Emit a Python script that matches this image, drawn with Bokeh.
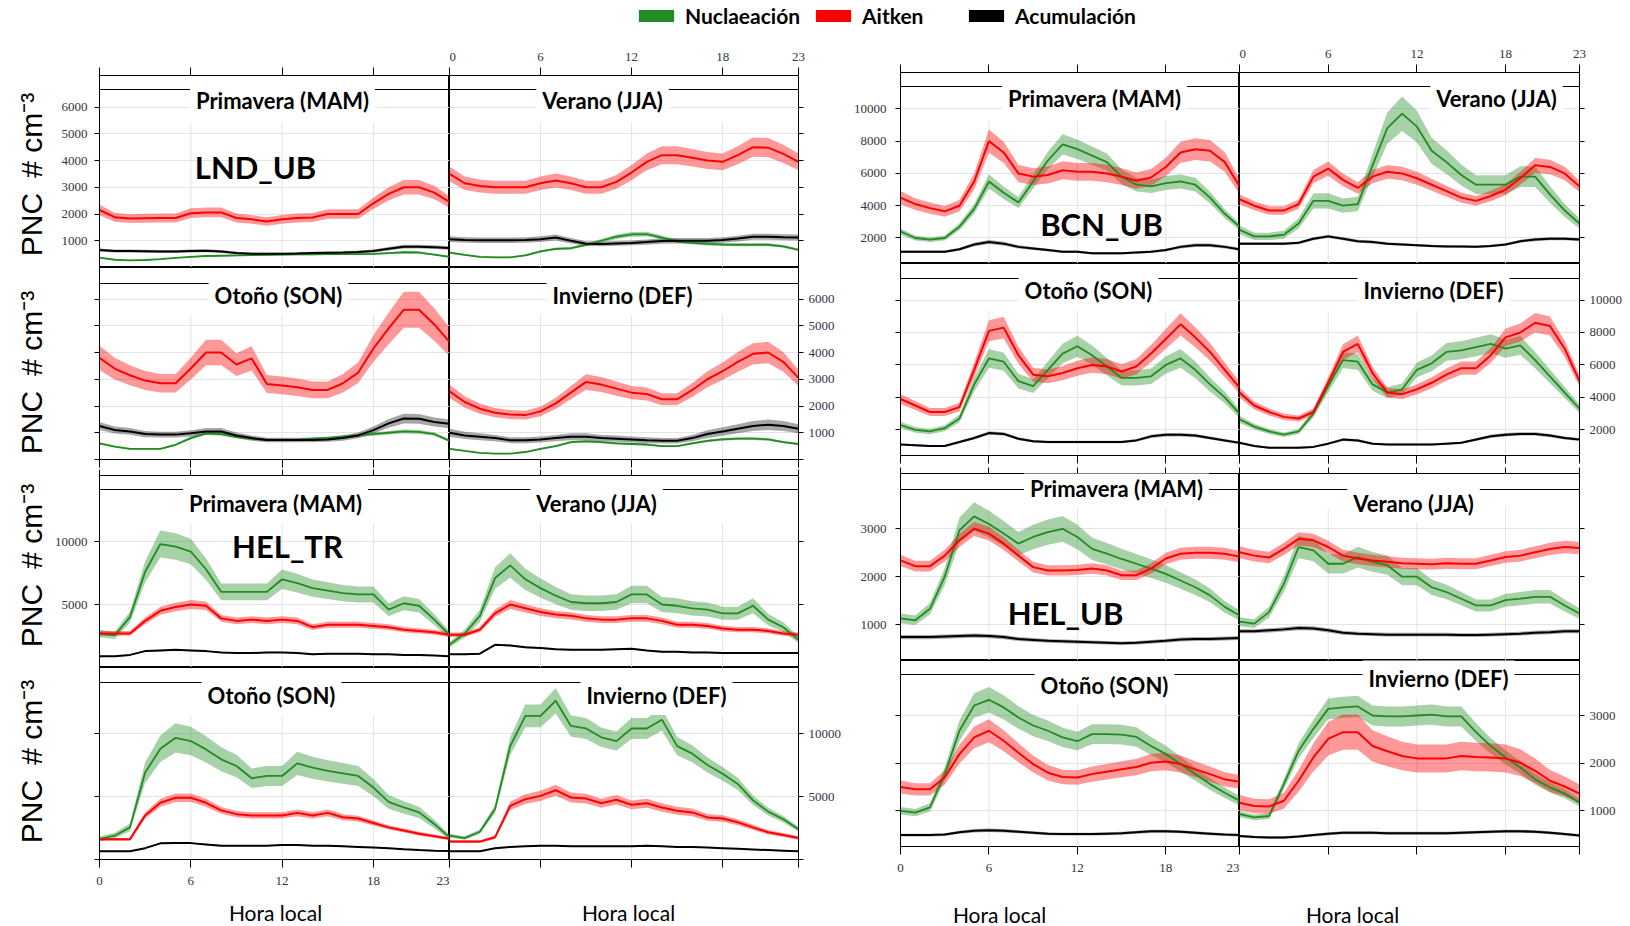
import math
from bokeh.plotting import figure
from bokeh.layouts import row, column
from bokeh.models import (Range1d, LinearAxis, FixedTicker, Grid, Span, Label,
                          Legend, LegendItem)
from bokeh.embed import file_html
from bokeh.resources import INLINE

# ---------------------------------------------------------------- data
HOURS = list(range(24))
HOUR_TICKS = [0, 6, 12, 18, 23]
HOUR_GRID = [6, 12, 18]

MODE_NAMES = ["Nuclaeación", "Aitken", "Acumulación"]
MODE_COLORS = ["#228b22", "#ff0000", "#000000"]
MODE_BAND_ALPHA = [0.40, 0.40, 0.35]
MODE_LINE_WIDTH = [1.8, 2.0, 2.0]

SEASON_ORDER = ["MAM", "JJA", "SON", "DEF"]
SEASON_TITLES = ["Primavera (MAM)", "Verano (JJA)", "Otoño (SON)", "Invierno (DEF)"]

# London urban background
LND_MAM_NUC = [370, 290, 270, 280, 310, 360, 400, 430, 440, 450, 460, 470, 480, 490, 490, 500, 500, 500, 510, 540, 570, 560, 480, 400]
LND_MAM_AIT = [2150, 1880, 1830, 1840, 1850, 1850, 2030, 2060, 2060, 1850, 1800, 1720, 1800, 1850, 1870, 2000, 2000, 2000, 2400, 2750, 3000, 3000, 2800, 2450]
LND_MAM_ACU = [650, 620, 620, 610, 600, 600, 620, 630, 600, 540, 510, 510, 510, 520, 540, 550, 560, 580, 620, 700, 780, 780, 760, 730]
LND_JJA_NUC = [560, 470, 400, 380, 380, 450, 600, 700, 720, 850, 1000, 1150, 1240, 1250, 1120, 980, 920, 880, 860, 850, 850, 850, 790, 660]
LND_JJA_AIT = [3500, 3150, 3050, 3000, 3000, 3000, 3150, 3250, 3150, 3000, 3000, 3200, 3550, 3950, 4200, 4200, 4100, 4000, 3950, 4200, 4500, 4480, 4250, 3950]
LND_JJA_ACU = [1060, 1030, 1020, 1020, 1020, 1030, 1060, 1120, 1000, 890, 880, 900, 920, 950, 990, 1000, 1000, 1000, 1030, 1080, 1150, 1150, 1130, 1120]
LND_SON_NUC = [600, 480, 400, 400, 400, 550, 800, 980, 950, 850, 780, 730, 730, 730, 780, 800, 850, 900, 950, 1000, 1050, 1030, 950, 700]
LND_SON_AIT = [3800, 3400, 3150, 2950, 2850, 2850, 3400, 4000, 4000, 3550, 3780, 2820, 2770, 2700, 2600, 2600, 2850, 3250, 4150, 4900, 5600, 5600, 5050, 4400]
LND_SON_ACU = [1250, 1100, 1050, 950, 930, 930, 980, 1050, 1050, 900, 800, 730, 730, 730, 730, 750, 800, 900, 1100, 1350, 1530, 1520, 1400, 1330]
LND_DEF_NUC = [400, 320, 250, 220, 220, 280, 400, 500, 650, 680, 650, 600, 580, 560, 500, 500, 600, 700, 750, 780, 780, 750, 650, 580]
LND_DEF_AIT = [2550, 2150, 1900, 1750, 1680, 1660, 1800, 2100, 2500, 2900, 2800, 2650, 2500, 2450, 2250, 2250, 2600, 3000, 3300, 3650, 3950, 4000, 3650, 3050]
LND_DEF_ACU = [1000, 900, 850, 800, 720, 720, 750, 800, 850, 850, 800, 780, 750, 720, 700, 700, 800, 950, 1050, 1150, 1250, 1300, 1250, 1150]

# Barcelona urban background
BCN_MAM_NUC = [2400, 2000, 1900, 2000, 2700, 3800, 5500, 4800, 4200, 5500, 6800, 7800, 7500, 7100, 6700, 5800, 5300, 5200, 5400, 5500, 5300, 4500, 3500, 2700]
BCN_MAM_AIT = [4500, 4100, 3850, 3650, 4000, 5500, 8000, 7300, 6000, 5800, 5900, 6200, 6100, 6100, 6000, 5800, 5550, 5750, 6400, 7300, 7500, 7400, 6700, 5200]
BCN_MAM_ACU = [1150, 1150, 1150, 1150, 1300, 1600, 1750, 1650, 1450, 1350, 1250, 1150, 1150, 1050, 1050, 1050, 1100, 1150, 1250, 1450, 1550, 1550, 1450, 1300]
BCN_JJA_NUC = [2500, 2100, 2100, 2200, 2900, 4300, 4300, 4000, 4100, 6500, 8800, 9700, 8900, 7400, 6700, 5900, 5300, 5300, 5300, 5800, 5800, 4700, 3700, 2900]
BCN_JJA_AIT = [4400, 4000, 3700, 3700, 4100, 5800, 6300, 5600, 5100, 5800, 6100, 6000, 5700, 5300, 4900, 4500, 4300, 4600, 5000, 5700, 6500, 6400, 6000, 5200]
BCN_JJA_ACU = [1650, 1650, 1650, 1650, 1700, 1950, 2100, 1950, 1800, 1750, 1650, 1600, 1550, 1500, 1480, 1470, 1450, 1500, 1600, 1800, 1900, 1950, 1950, 1900]
BCN_SON_NUC = [2300, 2000, 1900, 2100, 2700, 4800, 6400, 6200, 5000, 4700, 5700, 6700, 7150, 6600, 5900, 5200, 5200, 5300, 6000, 6400, 5700, 4800, 4000, 3000]
BCN_SON_AIT = [3900, 3500, 3100, 3100, 3400, 5700, 8100, 8300, 6600, 5400, 5300, 5500, 5800, 6000, 5900, 5600, 5900, 6700, 7600, 8500, 7700, 6800, 5700, 4600]
BCN_SON_ACU = [1100, 1050, 1000, 1000, 1250, 1500, 1800, 1750, 1450, 1300, 1250, 1250, 1250, 1250, 1250, 1250, 1350, 1600, 1700, 1700, 1650, 1500, 1350, 1200]
BCN_DEF_NUC = [2650, 2200, 1900, 1700, 1900, 3000, 4700, 6300, 6200, 4800, 4300, 4500, 5700, 6100, 6800, 6900, 7100, 7300, 7000, 7200, 6300, 5300, 4300, 3300]
BCN_DEF_AIT = [4300, 3500, 3100, 2800, 2700, 3100, 4900, 6800, 7300, 5500, 4300, 4200, 4500, 4900, 5400, 5800, 5800, 6600, 7700, 8000, 8600, 8400, 7000, 5000]
BCN_DEF_ACU = [1200, 1000, 900, 900, 900, 950, 1150, 1400, 1350, 1150, 1100, 1100, 1100, 1100, 1150, 1200, 1400, 1600, 1700, 1750, 1750, 1650, 1500, 1400]

# Helsinki traffic
HTR_MAM_NUC = [2700, 2550, 4000, 7600, 9800, 9600, 9200, 7800, 6000, 6000, 6000, 6000, 7000, 6700, 6300, 6100, 5900, 5800, 5800, 4600, 5100, 4900, 3800, 2600]
HTR_MAM_AIT = [2700, 2700, 2700, 3700, 4500, 4800, 5000, 4900, 3900, 3700, 3800, 3700, 3800, 3700, 3200, 3400, 3400, 3400, 3300, 3200, 3000, 2900, 2800, 2600]
HTR_MAM_ACU = [900, 900, 1000, 1300, 1350, 1400, 1350, 1300, 1200, 1150, 1150, 1200, 1200, 1150, 1050, 1100, 1100, 1100, 1050, 1050, 1000, 1000, 950, 900]
HTR_JJA_NUC = [1800, 2700, 4100, 7100, 8100, 7000, 6300, 5700, 5200, 5100, 5100, 5200, 5800, 5800, 5000, 4900, 4700, 4600, 4300, 4300, 4900, 3800, 3200, 2200]
HTR_JJA_AIT = [2600, 2600, 3000, 4300, 5000, 4700, 4400, 4200, 4100, 3900, 3800, 3800, 3900, 3900, 3700, 3400, 3400, 3300, 3100, 3000, 3000, 2900, 2700, 2600]
HTR_JJA_ACU = [1050, 1050, 1100, 1800, 1750, 1600, 1550, 1450, 1400, 1400, 1400, 1450, 1480, 1350, 1250, 1250, 1200, 1200, 1150, 1150, 1150, 1150, 1150, 1150]
HTR_SON_NUC = [1630, 1890, 2550, 6900, 8790, 9660, 9400, 8740, 7950, 7420, 6450, 6630, 6630, 7630, 7290, 7030, 6840, 6630, 5710, 4580, 4130, 3740, 2820, 1760]
HTR_SON_AIT = [1600, 1600, 1600, 3500, 4500, 4900, 4900, 4500, 3900, 3600, 3500, 3500, 3500, 3700, 3500, 3700, 3350, 3250, 2900, 2550, 2300, 2050, 1850, 1650]
HTR_SON_ACU = [660, 650, 660, 900, 1280, 1300, 1300, 1200, 1100, 1100, 1100, 1100, 1150, 1150, 1100, 1100, 1050, 1000, 950, 900, 820, 750, 700, 680]
HTR_DEF_NUC = [1900, 1700, 2200, 4000, 9000, 11400, 11400, 12600, 10600, 10400, 9700, 9400, 10400, 10400, 11100, 9000, 8400, 7500, 6800, 6000, 4700, 3800, 3200, 2400]
HTR_DEF_AIT = [1420, 1420, 1420, 1760, 4260, 4790, 5050, 5500, 4920, 4840, 4470, 4740, 4340, 4470, 4130, 3870, 3740, 3340, 3260, 2950, 2550, 2160, 1950, 1710]
HTR_DEF_ACU = [660, 660, 660, 900, 1000, 1050, 1100, 1100, 1050, 1050, 1050, 1050, 1050, 1100, 1050, 1000, 1000, 950, 900, 850, 800, 750, 700, 650]

# Helsinki urban background
HUB_MAM_NUC = [1130, 1090, 1330, 2000, 2970, 3260, 3100, 2900, 2690, 2830, 2930, 3000, 2830, 2580, 2480, 2370, 2270, 2170, 2060, 1920, 1780, 1610, 1370, 1190]
HUB_MAM_AIT = [2340, 2220, 2220, 2440, 2760, 3000, 2900, 2690, 2440, 2200, 2130, 2130, 2140, 2170, 2130, 2030, 2030, 2170, 2380, 2480, 2500, 2500, 2480, 2420]
HUB_MAM_ACU = [740, 740, 740, 750, 760, 770, 760, 740, 700, 680, 660, 650, 640, 630, 620, 610, 620, 640, 660, 690, 700, 700, 710, 720]
HUB_JJA_NUC = [1060, 1020, 1260, 1850, 2620, 2550, 2270, 2270, 2410, 2310, 2240, 2000, 2000, 1780, 1680, 1540, 1400, 1400, 1510, 1540, 1580, 1580, 1400, 1230]
HUB_JJA_AIT = [2510, 2440, 2400, 2580, 2790, 2760, 2620, 2440, 2380, 2340, 2310, 2280, 2270, 2260, 2280, 2270, 2270, 2340, 2410, 2440, 2510, 2580, 2620, 2600]
HUB_JJA_ACU = [860, 860, 880, 900, 930, 920, 880, 830, 810, 800, 790, 790, 790, 790, 790, 780, 780, 790, 800, 810, 830, 840, 860, 860]
HUB_SON_NUC = [1000, 960, 1070, 1770, 2680, 3210, 3330, 3170, 2960, 2790, 2680, 2540, 2460, 2610, 2610, 2600, 2550, 2360, 2190, 1980, 1770, 1560, 1380, 1210]
HUB_SON_AIT = [1500, 1450, 1450, 1700, 2190, 2540, 2680, 2470, 2220, 1980, 1800, 1710, 1700, 1770, 1820, 1870, 1920, 2010, 2035, 1980, 1870, 1770, 1660, 1610]
HUB_SON_ACU = [490, 490, 490, 500, 550, 580, 590, 580, 560, 540, 520, 510, 510, 510, 520, 530, 550, 570, 570, 560, 540, 520, 500, 490]
HUB_DEF_NUC = [930, 860, 890, 1560, 2260, 2720, 3140, 3170, 3190, 3000, 2980, 2980, 3000, 3020, 2980, 2980, 2650, 2360, 2120, 1910, 1660, 1490, 1360, 1170]
HUB_DEF_AIT = [1170, 1100, 1090, 1210, 1630, 2120, 2510, 2650, 2650, 2360, 2250, 2150, 2100, 2100, 2100, 2150, 2130, 2120, 2100, 2010, 1840, 1630, 1510, 1360]
HUB_DEF_ACU = [470, 450, 440, 440, 460, 490, 520, 540, 540, 540, 530, 530, 530, 530, 530, 540, 550, 560, 570, 570, 560, 540, 510, 480]

# relative half-width of the confidence band (nucleation, Aitken, accumulation)
LND_BAND = {"MAM": (0.06, 0.09, 0.09), "JJA": (0.07, 0.08, 0.10), "SON": (0.07, 0.12, 0.12), "DEF": (0.07, 0.10, 0.15)}
BCN_BAND = {"MAM": (0.08, 0.09, 0.07), "JJA": (0.11, 0.07, 0.05), "SON": (0.09, 0.08, 0.06), "DEF": (0.08, 0.07, 0.06)}
HTR_BAND = {"MAM": (0.11, 0.07, 0.04), "JJA": (0.12, 0.07, 0.04), "SON": (0.12, 0.07, 0.04), "DEF": (0.08, 0.08, 0.04)}
HUB_BAND = {"MAM": (0.09, 0.05, 0.06), "JJA": (0.09, 0.05, 0.05), "SON": (0.08, 0.09, 0.06), "DEF": (0.07, 0.14, 0.06)}

SERIES = {
    "LND_UB": {"MAM": (LND_MAM_NUC, LND_MAM_AIT, LND_MAM_ACU), "JJA": (LND_JJA_NUC, LND_JJA_AIT, LND_JJA_ACU),
               "SON": (LND_SON_NUC, LND_SON_AIT, LND_SON_ACU), "DEF": (LND_DEF_NUC, LND_DEF_AIT, LND_DEF_ACU)},
    "BCN_UB": {"MAM": (BCN_MAM_NUC, BCN_MAM_AIT, BCN_MAM_ACU), "JJA": (BCN_JJA_NUC, BCN_JJA_AIT, BCN_JJA_ACU),
               "SON": (BCN_SON_NUC, BCN_SON_AIT, BCN_SON_ACU), "DEF": (BCN_DEF_NUC, BCN_DEF_AIT, BCN_DEF_ACU)},
    "HEL_TR": {"MAM": (HTR_MAM_NUC, HTR_MAM_AIT, HTR_MAM_ACU), "JJA": (HTR_JJA_NUC, HTR_JJA_AIT, HTR_JJA_ACU),
               "SON": (HTR_SON_NUC, HTR_SON_AIT, HTR_SON_ACU), "DEF": (HTR_DEF_NUC, HTR_DEF_AIT, HTR_DEF_ACU)},
    "HEL_UB": {"MAM": (HUB_MAM_NUC, HUB_MAM_AIT, HUB_MAM_ACU), "JJA": (HUB_JJA_NUC, HUB_JJA_AIT, HUB_JJA_ACU),
               "SON": (HUB_SON_NUC, HUB_SON_AIT, HUB_SON_ACU), "DEF": (HUB_DEF_NUC, HUB_DEF_AIT, HUB_DEF_ACU)},
}
BANDS = {"LND_UB": LND_BAND, "BCN_UB": BCN_BAND, "HEL_TR": HTR_BAND, "HEL_UB": HUB_BAND}

Y_TICKS = {
    "LND_UB": [0, 1000, 2000, 3000, 4000, 5000, 6000],
    "BCN_UB": [2000, 4000, 6000, 8000, 10000],
    "HEL_TR": [0, 5000, 10000],
    "HEL_UB": [1000, 2000, 3000],
}
Y_LIMITS = {"LND_UB": (0, 7178), "BCN_UB": (420, 12250), "HEL_TR": (0, 15240), "HEL_UB": (250, 4155)}

# ---------------------------------------------------------------- styling / geometry
FONT_TICK = "Liberation Sans Narrow"
FONT_TEXT = "Lato"
TICK_COLOR = "#333340"
GRID_COLOR = "#e4e4e4"
YLABEL = "PNC\u2002# cm\u207b\u00b3"
XLABEL = "Hora local"

LEFT_COLS = [(49, 350, 0), (0, 349, 50)]      # (border left, frame width, border right)
RIGHT_COLS = [(52, 339, 0), (0, 340, 51)]

BLOCKS = {
    "LND_UB": dict(upper=True, cols=LEFT_COLS,
                   rows=[(35, 192, 0, 14), (0, 192, 10, 16)],   # (border top, frame h, border bottom, strip)
                   titles=[(183, 25), (153, 25), (179, 28), (173, 28)],
                   site=(156, 91), gridcut=47),
    "BCN_UB": dict(upper=True, cols=RIGHT_COLS,
                   rows=[(32, 191, 0, 14), (0, 192, 9, 15)],
                   titles=[(194, 26), (257, 26), (188, 27), (194, 27)],
                   site=(201, 151), gridcut=47),
    "HEL_TR": dict(upper=False, cols=LEFT_COLS,
                   rows=[(6, 192, 0, 14), (0, 192, 36, 15)],
                   titles=[(176, 28), (147, 28), (172, 28), (207, 28)],
                   site=(188, 70), gridcut=48),
    "HEL_UB": dict(upper=False, cols=RIGHT_COLS,
                   rows=[(9, 187, 0, 16), (0, 186, 36, 14)],
                   titles=[(216, 15), (174, 30), (204, 25), (199, 18)],
                   site=(165, 139), gridcut=35),
}

# side strips holding the shared axis titles: (width, height, [(x, y), ...]) in strip pixels
YLAB_STRIP = (50, 886, [(31, 752), (31, 554), (31, 361), (31, 165)])
XLAB_STRIP_LEFT = (798, 31, [(225, 14), (578, 14)])
XLAB_STRIP_RIGHT = (782, 44, [(151, 12), (504, 12)])


def make_axis(ticks, show, tick_out, standoff, hide_zero=False):
    ax = LinearAxis(ticker=FixedTicker(ticks=ticks))
    ax.major_tick_in = 0
    ax.major_tick_out = tick_out
    ax.major_tick_line_color = "black"
    ax.axis_line_color = "black"
    ax.minor_tick_line_color = None
    if show:
        ax.major_label_text_font = FONT_TICK
        ax.major_label_text_font_size = "13px"
        ax.major_label_text_color = TICK_COLOR
        ax.major_label_standoff = standoff
        if hide_zero:
            ax.major_label_overrides = {0: ""}
    else:
        ax.major_label_text_font_size = "0px"
        ax.major_label_text_color = None
        ax.major_label_text_alpha = 0
        ax.major_label_standoff = 0
    return ax


def make_panel(site, r, c):
    blk = BLOCKS[site]
    bl, fw, br = blk["cols"][c]
    bt, fh, bb, strip_px = blk["rows"][r]
    lo, top = Y_LIMITS[site]
    yticks = Y_TICKS[site]
    idx = 2 * r + c
    season = SEASON_ORDER[idx]
    per_px = (top - lo) / fh

    p = figure(width=bl + fw + br, height=bt + fh + bb,
               x_range=Range1d(0, 23), y_range=Range1d(lo, top),
               x_axis_type=None, y_axis_type=None, title=None,
               toolbar_location=None, output_backend="svg",
               min_border_left=bl, min_border_right=br,
               min_border_top=bt, min_border_bottom=bb)
    p.outline_line_color = "black"
    p.outline_line_width = 1
    p.background_fill_color = "white"
    p.border_fill_color = "white"

    # grid
    p.add_layout(Grid(dimension=1, ticker=FixedTicker(ticks=yticks),
                      grid_line_color=GRID_COLOR, grid_line_width=1))
    ycut = top - blk["gridcut"] * per_px
    p.segment(x0=HOUR_GRID, y0=[lo] * len(HOUR_GRID), x1=HOUR_GRID, y1=[ycut] * len(HOUR_GRID),
              line_color=GRID_COLOR, line_width=1)

    # mean diurnal cycles with confidence bands
    vals3 = SERIES[site][season]
    rel3 = BANDS[site][season]
    for vals, rel, col, alpha in zip(vals3, rel3, MODE_COLORS, MODE_BAND_ALPHA):
        p.varea(x=HOURS, y1=[v * (1 - rel) for v in vals], y2=[v * (1 + rel) for v in vals],
                fill_color=col, fill_alpha=alpha)
    for vals, col, lw in zip(vals3, MODE_COLORS, MODE_LINE_WIDTH):
        p.line(HOURS, vals, line_color=col, line_width=lw)

    # strip line and season title
    p.add_layout(Span(location=top - strip_px * per_px, dimension="width",
                      line_color="black", line_width=1))
    dx, dy = blk["titles"][idx]
    p.add_layout(Label(x=dx * 23 / fw, y=top - dy * per_px, text=SEASON_TITLES[idx],
                       text_align="center", text_baseline="middle",
                       text_font=FONT_TEXT, text_font_style="bold", text_font_size="22px",
                       text_color="black", background_fill_color="white", padding=6))
    if idx == 0:
        sx, sy = blk["site"]
        p.add_layout(Label(x=sx * 23 / fw, y=top - sy * per_px, text=site,
                           text_align="center", text_baseline="middle",
                           text_font=FONT_TEXT, text_font_style="bold", text_font_size="31px",
                           text_color="black"))

    upper = blk["upper"]
    hide_zero = 0 in yticks
    # x axes
    if r == 0:
        p.add_layout(make_axis(HOUR_TICKS, upper and c == 1, 8 if upper else 6, 7), "above")
    else:
        p.add_layout(make_axis(HOUR_TICKS, (not upper) and c == 0, 8, 9), "below")
    # y axes
    if c == 0:
        p.add_layout(make_axis(yticks, r == 0, 5, 9 if bl > 50 else 7, hide_zero), "left")
    else:
        p.add_layout(make_axis(yticks, r == 1, 5, 5, hide_zero), "right")
    return p


def make_block(site):
    return column(row(make_panel(site, 0, 0), make_panel(site, 0, 1)),
                  row(make_panel(site, 1, 0), make_panel(site, 1, 1)))


def text_strip(spec, text, font, size, angle=0.0):
    w, h, spots = spec
    s = figure(width=w, height=h, x_range=Range1d(0, w), y_range=Range1d(0, h),
               x_axis_type=None, y_axis_type=None, title=None, toolbar_location=None,
               output_backend="svg", min_border=0)
    s.outline_line_color = None
    for x, y in spots:
        s.add_layout(Label(x=x, y=y, text=text, angle=angle, text_align="center",
                           text_baseline="middle", text_font=font, text_font_size=size,
                           text_color="black"))
    return s


# ---------------------------------------------------------------- legend strip
LEGEND_X = [634, 811, 964]
lg = figure(width=1630, height=40, x_range=Range1d(0, 1), y_range=Range1d(0, 1),
            x_axis_type=None, y_axis_type=None, title=None, toolbar_location=None,
            output_backend="svg", min_border=0)
lg.outline_line_color = None
for name, color, lx in zip(MODE_NAMES, MODE_COLORS, LEGEND_X):
    # swatch glyph kept outside the visible range; only its legend entry is seen
    rend = lg.quad(left=[-3], right=[-2], top=[-2], bottom=[-3], fill_color=color, line_color=None)
    lg.add_layout(Legend(items=[LegendItem(label=name, renderers=[rend])], location=(lx, 12),
                         orientation="horizontal", glyph_width=44, glyph_height=15,
                         label_standoff=7, label_height=22, padding=0, margin=0, spacing=0,
                         border_line_color=None, background_fill_alpha=0,
                         label_text_font=FONT_TEXT, label_text_font_style="bold",
                         label_text_font_size="21px", label_text_color="black"))

ylab = text_strip(YLAB_STRIP, YLABEL, "Liberation Sans", "30px", angle=math.pi / 2)
left_panels = column(make_block("LND_UB"), make_block("HEL_TR"),
                     text_strip(XLAB_STRIP_LEFT, XLABEL, FONT_TEXT, "21px"))
right_col = column(make_block("BCN_UB"), make_block("HEL_UB"),
                   text_strip(XLAB_STRIP_RIGHT, XLABEL, FONT_TEXT, "21px"))
page = column(lg, row(ylab, left_panels, right_col))

open("out.html", "w").write(file_html(page, INLINE, title="PNC diurnal cycles"))
